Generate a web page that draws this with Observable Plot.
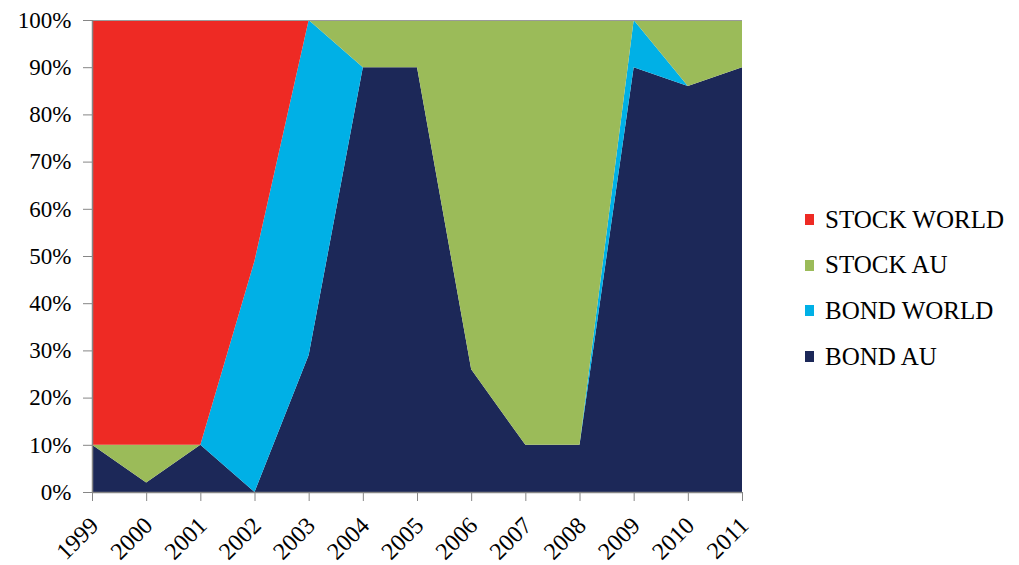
<!DOCTYPE html>
<html>
<head>
<meta charset="utf-8">
<script src="https://cdn.jsdelivr.net/npm/d3@7"></script>
<script src="https://cdn.jsdelivr.net/npm/@observablehq/plot@0.6"></script>
<style>
  html, body { margin: 0; padding: 0; background: #fff; }
  #wrap { position: relative; width: 1019px; height: 565px; font-family: "Liberation Serif", "DejaVu Serif", Times, serif; }
  #wrap svg text { font-family: "Liberation Serif", "DejaVu Serif", Times, serif; }
  #legend { position: absolute; left: 805px; top: 197px; }
  .item { display: flex; align-items: center; height: 45.6px; font-size: 25px; color: #000; white-space: nowrap; }
  .sw { width: 9px; height: 11px; margin-right: 11px; }
</style>
</head>
<body>
<div id="wrap"></div>
<script>
const years      = [1999, 2000, 2001, 2002, 2003, 2004, 2005, 2006, 2007, 2008, 2009, 2010, 2011];
const bondAU     = [10, 2, 10, 0, 29, 90, 90, 26, 10, 10, 90, 86, 90];
const bondWorld  = [0, 0, 0, 49, 71, 0, 0, 0, 0, 0, 10, 0, 0];
const stockAU    = [0, 8, 0, 0, 0, 10, 10, 74, 90, 90, 0, 14, 10];
const stockWorld = [90, 90, 90, 51, 0, 0, 0, 0, 0, 0, 0, 0, 0];
const seriesNames  = ["BOND AU", "BOND WORLD", "STOCK AU", "STOCK WORLD"];
const seriesColors = ["#1c2858", "#00b0e6", "#9bbb59", "#ee2a24"];
const legendOrder  = ["STOCK WORLD", "STOCK AU", "BOND WORLD", "BOND AU"];
const yTicks = [0, 10, 20, 30, 40, 50, 60, 70, 80, 90, 100];

const seriesValues = [bondAU, bondWorld, stockAU, stockWorld];
const data = [];
seriesNames.forEach((name, i) => {
  years.forEach((yr, j) => data.push({year: yr, series: name, value: seriesValues[i][j]}));
});

const chart = Plot.plot({
  width: 1019,
  height: 565,
  marginLeft: 92,
  marginRight: 277,
  marginTop: 20,
  marginBottom: 73,
  style: {fontFamily: "Liberation Serif, DejaVu Serif, Times, serif", fontSize: "23px", background: "white", color: "black"},
  x: {domain: [1999, 2011]},
  y: {domain: [0, 100]},
  color: {domain: seriesNames, range: seriesColors},
  marks: [
    Plot.areaY(data, {x: "year", y: "value", fill: "series", order: seriesNames}),
    Plot.ruleY([100], {stroke: "#9a9a9a", strokeWidth: 1}),
    Plot.ruleY([0], {stroke: "#868686", strokeWidth: 1.5}),
    Plot.ruleX([1999], {stroke: "#868686", strokeWidth: 1.5}),
    Plot.axisY(yTicks, {tickSize: 9, tickPadding: 12, stroke: "#868686", fill: "black", fontSize: 23, tickFormat: d => d + "%", label: null}),
    Plot.axisX(years, {tickSize: 9, stroke: "#868686", tickFormat: () => "", label: null}),
    Plot.axisX(years, {tickSize: 0, tickPadding: 21, tickRotate: -45, dy: 8, dx: 2, fill: "black", fontSize: 24, tickFormat: d => String(d), label: null})
  ]
});

const wrap = document.getElementById("wrap");
wrap.appendChild(chart);

const legend = document.createElement("div");
legend.id = "legend";
legendOrder.forEach(name => {
  const it = document.createElement("div");
  it.className = "item";
  const sw = document.createElement("span");
  sw.className = "sw";
  sw.style.background = seriesColors[seriesNames.indexOf(name)];
  it.appendChild(sw);
  const t = document.createElement("span");
  t.textContent = name;
  it.appendChild(t);
  legend.appendChild(it);
});
wrap.appendChild(legend);
</script>
</body>
</html>
